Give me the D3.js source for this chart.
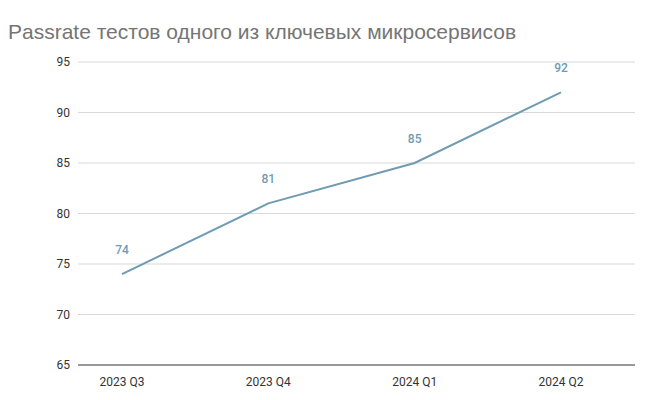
<!DOCTYPE html>
<html><head><meta charset="utf-8">
<script src="https://cdn.jsdelivr.net/npm/d3@7"></script>
<style>body{margin:0;background:#fff}text{font-family:Roboto,"Noto Sans",sans-serif}</style>
</head><body><svg width="655" height="400"></svg>
<script>
var quarters = ["2023 Q3", "2023 Q4", "2024 Q1", "2024 Q2"];
var passrate = [74, 81, 85, 92];
var yTicks = [65, 70, 75, 80, 85, 90, 95];

var svg = d3.select("svg");
var x = d3.scalePoint().domain(quarters).range([122, 561]);
var y = d3.scaleLinear().domain([65, 95]).range([365, 62]);

svg.append("text").attr("x", 8).attr("y", 39)
  .attr("font-size", 21).attr("fill", "#757575")
  .style("font-family", "'Liberation Sans', Arial, sans-serif")
  .text("Passrate тестов одного из ключевых микросервисов");

svg.append("g").selectAll("line").data(yTicks).enter().append("line")
  .attr("x1", 78).attr("x2", 635)
  .attr("y1", d => y(d)).attr("y2", d => y(d))
  .attr("stroke", d => d === 65 ? "#333" : "#d9d9d9");

svg.append("g").selectAll("text").data(yTicks).enter().append("text")
  .attr("x", 70).attr("y", d => y(d) + 4)
  .attr("text-anchor", "end").attr("font-size", 12).attr("fill", "#333")
  .text(d => d);

svg.append("g").selectAll("text").data(quarters).enter().append("text")
  .attr("x", d => x(d)).attr("y", 386)
  .attr("text-anchor", "middle").attr("font-size", 12).attr("fill", "#333")
  .text(d => d);

var pts = quarters.map((q, i) => ({q: q, v: passrate[i]}));
svg.append("path").datum(pts)
  .attr("fill", "none").attr("stroke", "#6f9bb3").attr("stroke-width", 2)
  .attr("d", d3.line().x(d => x(d.q)).y(d => y(d.v)));

svg.append("g").selectAll("text").data(pts).enter().append("text")
  .attr("x", d => x(d.q)).attr("y", d => y(d.v) - 20)
  .attr("text-anchor", "middle").attr("font-size", 12).attr("font-weight", 500)
  .attr("fill", "#6f9bb3")
  .text(d => d.v);
</script></body></html>
